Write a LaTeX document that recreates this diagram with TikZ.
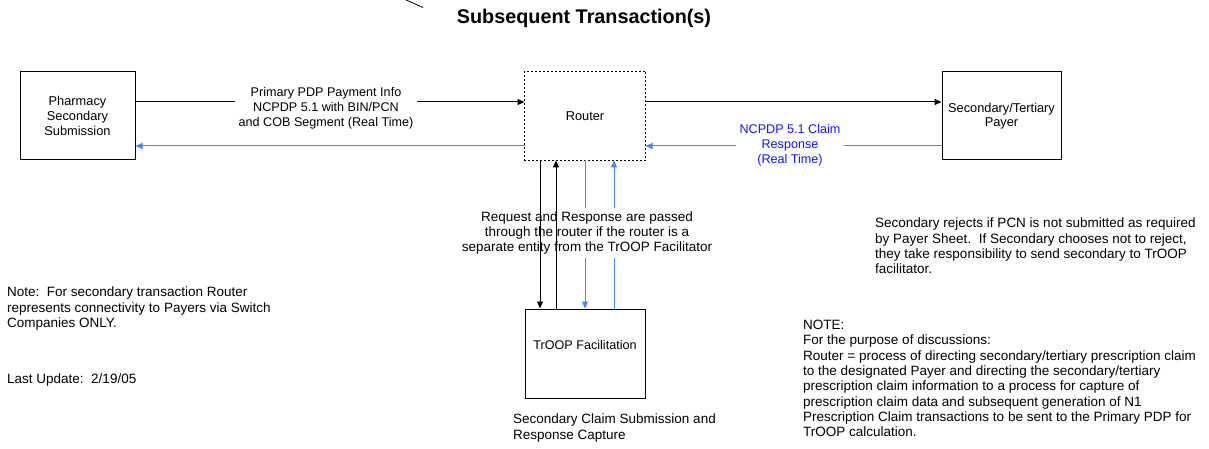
\documentclass[tikz,border=0pt]{standalone}
\usepackage{fontspec}
\setmainfont{Liberation Sans}
\usetikzlibrary{arrows.meta,positioning}
\definecolor{lnblue}{RGB}{77,128,255}
\definecolor{txblue}{RGB}{20,20,255}

\begin{document}
\begin{tikzpicture}
[x=1pt,y=-1pt,
 box/.style={draw,line width=1pt,inner sep=0pt,minimum width=#1,minimum height=88pt,align=center,font=\fontsize{12.8}{14.6}\selectfont},
 lbl/.style={inner sep=4pt,align=center,font=\fontsize{12.6}{15}\selectfont},
 note/.style={inner sep=0pt,anchor=north west,align=left,font=\fontsize{13.5}{15.3}\selectfont},
 ar/.style={-{Triangle[length=7pt,width=6pt]},line width=1pt}]
\useasboundingbox (0,0) rectangle (1209,449);
\draw[line width=0.8pt] (404,-1) -- (423,7.5);
\node[font=\fontsize{19.8}{22}\selectfont\bfseries] (ttl) at (584,18) {Subsequent Transaction(s)};
\node[box=115pt] (ph) at (77.5,116) {Pharmacy\\Secondary\\Submission};
\node[box=120pt,draw=none] (rt) at (585,116) {Router};
\draw[line width=1pt,dash pattern=on 2pt off 2pt] (rt.north west) rectangle (rt.south east);
\node[box=119pt] (py) at (1001.5,116) {Secondary/Tertiary\\Payer};
\node[box=120pt,minimum height=89pt] (tf) at (585,353.5) {};
\node[lbl] (tft) at (585,345) {TrOOP Facilitation};
\draw[ar] ([yshift=14pt]ph.east) -- ([yshift=14pt]rt.west);
\node[lbl,fill=white] (pl) at (326,108) {Primary PDP Payment Info\\NCPDP 5.1 with BIN/PCN\\and COB Segment (Real Time)};
\draw[ar] ([yshift=14pt]rt.east) -- ([yshift=14pt]py.west);
\draw[ar,lnblue] ([yshift=-30pt]py.west) -- ([yshift=-30pt]rt.east);
\node[lbl,fill=white,text=txblue] (cr) at (790,145) {NCPDP 5.1 Claim\\Response\\(Real Time)};
\draw[ar,lnblue] ([yshift=-30pt]rt.west) -- ([yshift=-30pt]ph.east);
\draw[ar,lnblue] (rt.south) -- (tf.north);
\draw[ar,lnblue] ([xshift=29pt]tf.north) -- ([xshift=29pt]rt.south);
\node[lbl,fill=white,font=\fontsize{13.5}{15.2}\selectfont] (rq) at (587,233) {Request and Response are passed\\through the router if the router is a\\separate entity from the TrOOP Facilitator};
\draw[ar] ([xshift=-45pt]rt.south) -- ([xshift=-45pt]tf.north);
\draw[ar] ([xshift=-29pt]tf.north) -- ([xshift=-29pt]rt.south);
\node[note] (sr) at (875,218) {Secondary rejects if PCN is not submitted as required\\by Payer Sheet.~~If Secondary chooses not to reject,\\they take responsibility to send secondary to TrOOP\\facilitator.};
\node[note] (nt) at (803,320) {NOTE:\\For the purpose of discussions:\\Router = process of directing secondary/tertiary prescription claim\\to the designated Payer and directing the secondary/tertiary\\prescription claim information to a process for capture of\\prescription claim data and subsequent generation of N1\\Prescription Claim transactions to be sent to the Primary PDP for\\TrOOP calculation.};
\node[note] (ln) at (7,287) {Note:~~For secondary transaction Router\\represents connectivity to Payers via Switch\\Companies ONLY.};
\node[note] (lu) at (7,374) {Last Update:~~2/19/05};
\node[note] (cap) at (513,414) {Secondary Claim Submission and\\Response Capture};
\end{tikzpicture}
\end{document}
